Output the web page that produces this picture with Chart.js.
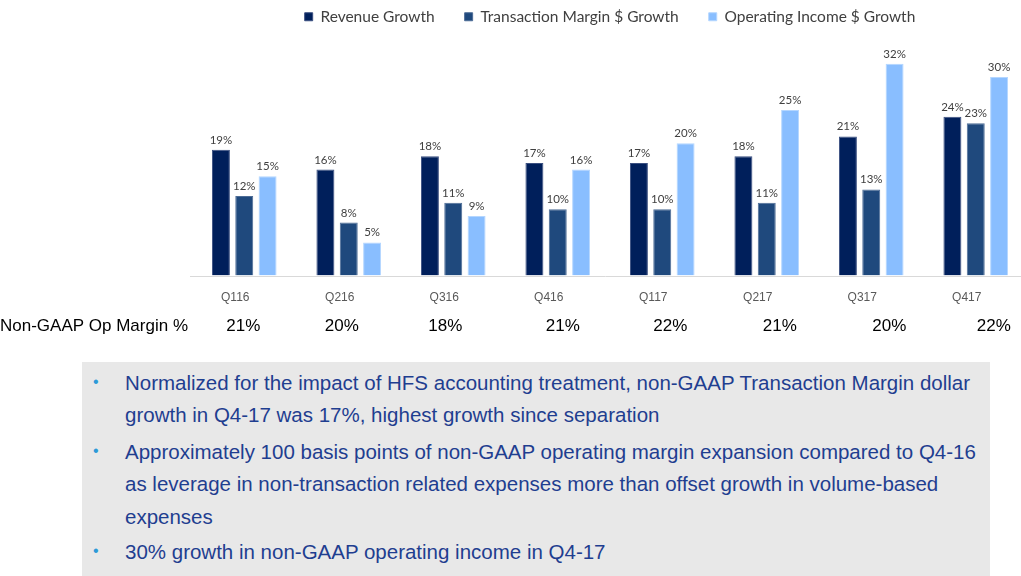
<!DOCTYPE html>
<html>
<head>
<meta charset="utf-8">
<script src="https://cdn.jsdelivr.net/npm/chart.js@4.4.0/dist/chart.umd.min.js"></script>
<style>
  html,body{margin:0;padding:0;background:#fff;width:1021px;height:576px;overflow:hidden;}
  #wrap{position:absolute;left:0;top:0;width:1040px;height:345px;}
  #box{position:absolute;left:82px;top:362px;width:908px;height:214px;background:#e8e8e8;}
  .line{position:absolute;left:125px;font-family:"Liberation Sans",Arial,sans-serif;font-size:20.5px;color:#1f3e90;white-space:nowrap;}
  .dot{position:absolute;left:93px;font-family:"Liberation Sans",Arial,sans-serif;font-size:16px;color:#2c9ad8;}
</style>
</head>
<body>
<div id="wrap"><canvas id="c" width="1040" height="345"></canvas></div>
<div id="box"></div>
<div id="txt"></div>
<script>
const categories = ["Q116","Q216","Q316","Q416","Q117","Q217","Q317","Q417"];
const revenueGrowth = [19,16,18,17,17,18,21,24];
const transactionMarginGrowth = [12,8,11,10,10,11,13,23];
const operatingIncomeGrowth = [15,5,9,16,20,25,32,30];
const opMargin = ["21%","20%","18%","21%","22%","21%","20%","22%"];
const opMarginNudge = [-1,-7,-8,5,8,13,18,18];
const seriesNames = ["Revenue Growth","Transaction Margin $ Growth","Operating Income $ Growth"];
const bullets = [
  ["Normalized for the impact of HFS accounting treatment, non-GAAP Transaction Margin dollar","growth in Q4-17 was 17%, highest growth since separation"],
  ["Approximately 100 basis points of non-GAAP operating margin expansion compared to Q4-16","as leverage in non-transaction related expenses more than offset growth in volume-based","expenses"],
  ["30% growth in non-GAAP operating income in Q4-17"]
];

const colors = ["#001f5b","#1f497d","#89beff"];
const borders = ["#3a4f80","#4d6c96","#b4d6ff"];

const labelPlugin = {
  id:'labels',
  afterDatasetsDraw(chart){
    const ctx = chart.ctx;
    ctx.save();
    ctx.font = '11.5px Lato, "Open Sans", sans-serif';
    ctx.fillStyle = '#404040';
    ctx.textAlign = 'center';
    ctx.textBaseline = 'bottom';
    chart.data.datasets.forEach((ds,i)=>{
      const meta = chart.getDatasetMeta(i);
      meta.data.forEach((bar,j)=>{
        ctx.fillText(ds.data[j]+'%', bar.x, bar.y-4);
      });
    });
    const xs = chart.scales.x;
    ctx.font = '17px "Liberation Sans", Arial, sans-serif';
    ctx.fillStyle = '#000';
    ctx.textBaseline = 'middle';
    ctx.textAlign = 'left';
    ctx.fillText('Non-GAAP Op Margin %', 0, 326);
    ctx.textAlign = 'center';
    opMargin.forEach((m,j)=>{
      ctx.fillText(m, xs.getPixelForValue(j)+opMarginNudge[j], 326);
    });
    const y0 = Math.round(chart.scales.y.getPixelForValue(0))+0.5;
    ctx.strokeStyle = '#d9d9d9';
    ctx.lineWidth = 1;
    ctx.beginPath();
    ctx.moveTo(190, y0);
    ctx.lineTo(1021, y0);
    ctx.stroke();
    ctx.restore();
  }
};

new Chart(document.getElementById('c'), {
  type:'bar',
  data:{
    labels:categories,
    datasets:[
      {label:seriesNames[0], data:revenueGrowth, backgroundColor:colors[0], borderColor:borders[0], borderWidth:1},
      {label:seriesNames[1], data:transactionMarginGrowth, backgroundColor:colors[1], borderColor:borders[1], borderWidth:1},
      {label:seriesNames[2], data:operatingIncomeGrowth, backgroundColor:colors[2], borderColor:borders[2], borderWidth:1}
    ]
  },
  options:{
    responsive:false,
    animation:false,
    events:[],
    datasets:{bar:{categoryPercentage:0.67, barPercentage:0.77}},
    layout:{padding:{left:192, right:12, top:-21, bottom:25}},
    plugins:{
      legend:{
        position:'top',
        labels:{
          boxWidth:8, boxHeight:8, padding:30,
          color:'#404040',
          font:{family:'Lato, "Open Sans", sans-serif', size:15.5}
        }
      },
      tooltip:{enabled:false}
    },
    scales:{
      x:{
        grid:{display:false, drawTicks:false},
        border:{display:false},
        ticks:{color:'#595959', padding:15, labelOffset:-9, font:{family:'"Liberation Sans Narrow","Liberation Sans",Arial,sans-serif', size:12}}
      },
      y:{
        display:false,
        min:0, max:36.4
      }
    }
  },
  plugins:[labelPlugin]
});

const txt = document.getElementById('txt');
const lineTops = [[383,415],[452,484,517],[552]];
bullets.forEach((b,i)=>{
  const d = document.createElement('div');
  d.className='dot'; d.textContent='•';
  d.style.top=(lineTops[i][0]-10)+'px';
  txt.appendChild(d);
  b.forEach((l,k)=>{
    const s = document.createElement('div');
    s.className='line'; s.textContent=l;
    s.style.top=(lineTops[i][k]-12)+'px';
    txt.appendChild(s);
  });
});
</script>
</body>
</html>
